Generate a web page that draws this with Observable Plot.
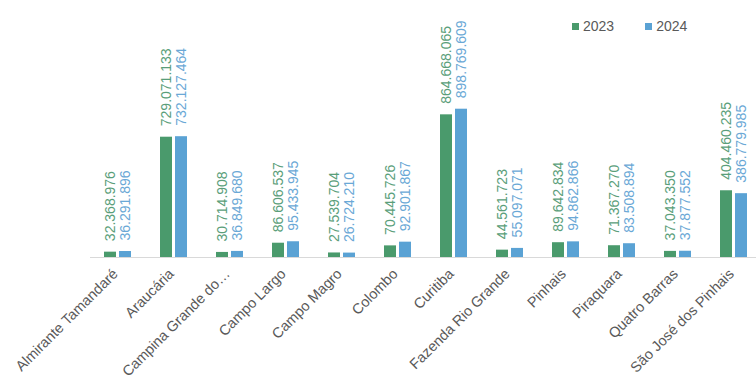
<!DOCTYPE html>
<html>
<head>
<meta charset="utf-8">
<script src="https://cdn.jsdelivr.net/npm/d3@7"></script>
<script src="https://cdn.jsdelivr.net/npm/@observablehq/plot@0.6"></script>
<style>
  html, body { margin: 0; padding: 0; background: #fff; }
  #wrap { position: relative; width: 756px; height: 379px; overflow: hidden; font-family: "Liberation Sans", Arial, sans-serif; }
  #legend { position: absolute; top: 18px; left: 572px; display: flex; gap: 31px; font-size: 14px; color: #595959; }
  #legend span.item { display: flex; align-items: center; }
  #legend span.sw { display: inline-block; width: 7px; height: 7px; margin-right: 4px; }
</style>
</head>
<body>
<div id="wrap"><div id="legend"></div></div>
<script>
const cities = ["Almirante Tamandaré", "Araucária", "Campina Grande do Sul", "Campo Largo", "Campo Magro", "Colombo", "Curitiba", "Fazenda Rio Grande", "Pinhais", "Piraquara", "Quatro Barras", "São José dos Pinhais"];
const years = ["2023", "2024"];
const values2023 = [32368976, 729071133, 30714908, 86606537, 27539704, 70445726, 864668065, 44561723, 89642834, 71367270, 37043350, 404460235];
const values2024 = [36291896, 732127464, 36849680, 95433945, 26724210, 92901867, 898769609, 55097071, 94862866, 83508894, 37877552, 386779985];
const barColors = ["#4a9a6c", "#5aa2d4"];
const labelColors = ["#5a9e7a", "#6aa8d6"];

const data = cities.flatMap((c, i) => [
  {city: c, year: years[0], value: values2023[i]},
  {city: c, year: years[1], value: values2024[i]}
]);

const fmt = d3.formatLocale({decimal: ",", thousands: ".", grouping: [3], currency: ["", ""]}).format(",d");
const short = d => d === "Campina Grande do Sul" ? "Campina Grande do…" : d;

const chart = Plot.plot({
  width: 756,
  height: 379,
  marginLeft: 86,
  marginRight: -9,
  marginTop: 92,
  marginBottom: 122,
  style: {fontFamily: "Liberation Sans, Arial, sans-serif", background: "transparent"},
  fx: {domain: cities, padding: 0, label: null, axis: null},
  x: {domain: years, paddingInner: 0.19, paddingOuter: 0.86, axis: null},
  y: {domain: [0, 1000], axis: null},
  color: {domain: years, range: barColors},
  marks: [
    Plot.barY(data, {fx: "city", x: "year", y: d => d.value / 1e6, fill: "year"}),
    Plot.ruleY([0], {stroke: "#d9d9d9", strokeWidth: 1}),
    Plot.text(data, {
      fx: "city", x: "year", y: d => d.value / 1e6,
      text: d => fmt(d.value),
      rotate: -90, textAnchor: "start", lineAnchor: "middle",
      dy: -11, fontSize: 14,
      fill: d => labelColors[years.indexOf(d.year)]
    }),
    Plot.axisFx({
      anchor: "bottom", tickRotate: -45, tickSize: 0, tickPadding: 14, dx: -3,
      fontSize: 14.5, fill: "#595959", label: null, tickFormat: short
    })
  ]
});
document.getElementById("wrap").prepend(chart);

const legend = document.getElementById("legend");
years.forEach((y, i) => {
  const item = document.createElement("span");
  item.className = "item";
  const sw = document.createElement("span");
  sw.className = "sw";
  sw.style.background = barColors[i];
  item.appendChild(sw);
  item.appendChild(document.createTextNode(y));
  legend.appendChild(item);
});
</script>
</body>
</html>
